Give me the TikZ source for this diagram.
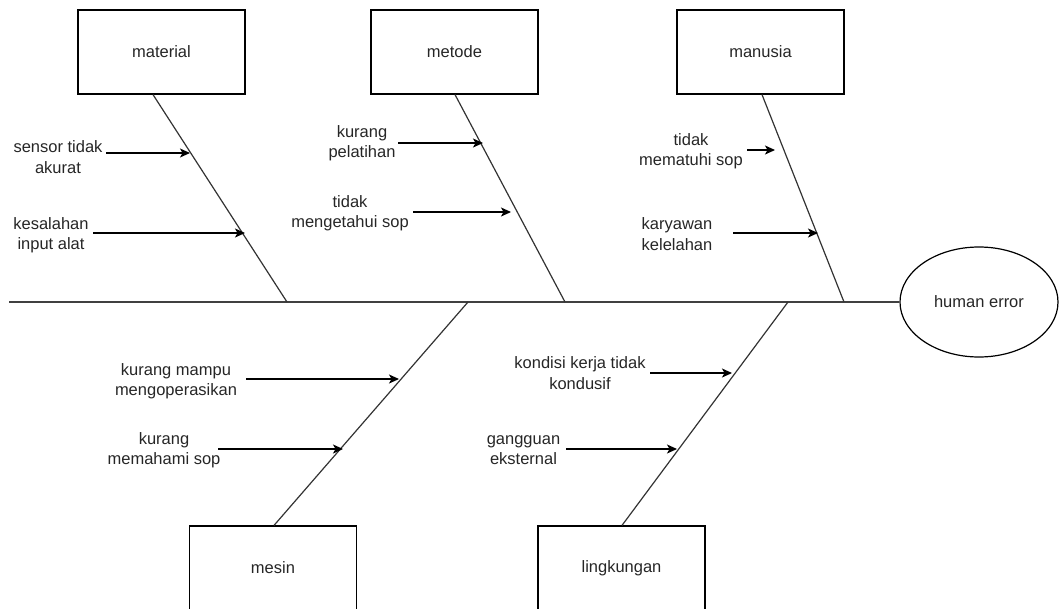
\documentclass[tikz,border=0pt]{standalone}
\usepackage{fontspec}
\setmainfont{Liberation Sans}
\usetikzlibrary{shapes.geometric,arrows.meta}
\begin{document}
\begin{tikzpicture}[x=1pt,y=-1pt,
  every node/.style={font=\fontsize{16.5}{20.5}\selectfont, text=black!85},
  cause/.style={draw, line width=1.2pt, minimum width=167pt, minimum height=84pt, inner sep=0pt},
  effect/.style={draw, ellipse, line width=1.2pt, minimum width=158pt, minimum height=110pt, inner sep=0pt},
  lbl/.style={align=center, inner sep=0pt},
  bone/.style={line width=1.2pt, draw=black!80},
  spine/.style={line width=1.4pt, draw=black!75},
  arr/.style={line width=1.2pt, -{Stealth[length=10pt,width=9pt,inset=2.5pt]}}]
\useasboundingbox (0,0) rectangle (1060,608);
% boxes
\node[cause] (material) at (161.5,52) {material};
\node[cause] (metode) at (454.5,52) {metode};
\node[cause] (manusia) at (760.5,52) {manusia};
\node[cause] (mesin) at (273,568) {mesin};
\node[cause] (lingkungan) at (621.5,568) {lingkungan};
\node[effect] (effect) at (979,302) {human error};
% spine
\coordinate (tail) at (9,302);
\draw[spine] (tail) -- (effect.west);
% bone ends on spine
\coordinate (s1) at (287,302);
\coordinate (s2) at (565,302);
\coordinate (s3) at (844,302);
\coordinate (s4) at (468,302);
\coordinate (s5) at (788,302);
\draw[bone] (material.south -| 153,0) -- (s1);
\draw[bone] (metode.south -| 455,0) -- (s2);
\draw[bone] (manusia.south -| 762,0) -- (s3);
\draw[bone] (s4) -- (mesin.north -| 274,0);
\draw[bone] (s5) -- (lingkungan.north -| 622,0);
% labels
\node[lbl] (c1) at (58,157) {sensor tidak\\akurat};
\node[lbl] (c2) at (51,235) {kesalahan\\input alat};
\node[lbl] (c3) at (362,143) {kurang\\pelatihan};
\node[lbl] (c4) at (350,213) {tidak\\mengetahui sop};
\node[lbl] (c5) at (691,151) {tidak\\mematuhi sop};
\node[lbl] (c6) at (677,234) {karyawan\\kelelahan};
\node[lbl] (c7) at (176,381) {kurang mampu\\mengoperasikan};
\node[lbl] (c8) at (164,450) {kurang\\memahami sop};
\node[lbl] (c9) at (580,373) {kondisi kerja tidak\\kondusif};
\node[lbl] (c10) at (523.5,450) {gangguan\\eksternal};
% arrows
\coordinate (a1) at (106,153);  \coordinate (b1) at (190,153);
\coordinate (a2) at (93,233);   \coordinate (b2) at (245,233);
\coordinate (a3) at (398,143);  \coordinate (b3) at (483,143);
\coordinate (a4) at (413,212);  \coordinate (b4) at (511,212);
\coordinate (a5) at (747,150);  \coordinate (b5) at (775,150);
\coordinate (a6) at (733,233);  \coordinate (b6) at (818,233);
\coordinate (a7) at (246,379);  \coordinate (b7) at (399,379);
\coordinate (a8) at (218,449);  \coordinate (b8) at (343,449);
\coordinate (a9) at (650,373);  \coordinate (b9) at (732,373);
\coordinate (a10) at (566,449); \coordinate (b10) at (677,449);
\foreach \i in {1,...,10} {\draw[arr] (a\i) -- (b\i);}
\end{tikzpicture}
\end{document}
